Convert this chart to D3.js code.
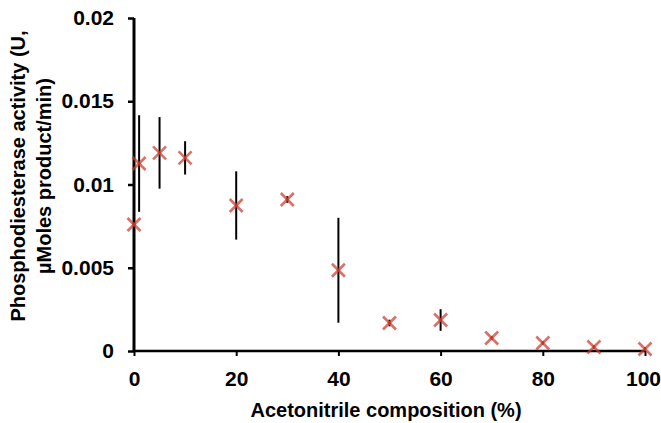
<!DOCTYPE html>
<html>
<head>
<meta charset="utf-8">
<script src="https://cdn.jsdelivr.net/npm/d3@7"></script>
<style>
  body { margin: 0; background: #fff; }
  text { font-family: "Liberation Sans", Arial, sans-serif; font-weight: bold; fill: #000; }
</style>
</head>
<body>
<div class="chart"></div>
<script>
var width = 661,
    height = 423;

// acetonitrile %, activity (U), error
var composition = [0, 1, 5, 10, 20, 30, 40, 50, 60, 70, 80, 90, 100];
var activity = [0.0076, 0.01126, 0.0119, 0.0116, 0.00874, 0.0091, 0.00485, 0.00168, 0.00186, 0.00078, 0.00048, 0.00024, 0.00012];
var errors = [0.0125, 0.0029, 0.00215, 0.001, 0.00205, 0.0002, 0.00315, 0.0002, 0.00065, 0.0001, 0.0001, 0.0001, 0.0001];
var xTicks = [0, 20, 40, 60, 80, 100];
var yTicks = [0, 0.005, 0.01, 0.015, 0.02];

var margin = {left: 134, top: 18, right: 16, bottom: 72};

var svg = d3.select(".chart").append("svg")
    .attr("width", width)
    .attr("height", height);

var x = d3.scaleLinear().domain([0, 100]).range([margin.left, width - margin.right]);
var y = d3.scaleLinear().domain([0, 0.02]).range([height - margin.bottom, margin.top]);

svg.append("defs").append("clipPath").attr("id", "plot")
  .append("rect")
    .attr("x", x(0) - 5).attr("y", y(0.02))
    .attr("width", x(100) - x(0) + 10).attr("height", y(0) - y(0.02));

var data = composition.map(function(c, i) {
  return {x: c, y: activity[i], e: errors[i]};
});

// error bars
svg.append("g").attr("clip-path", "url(#plot)")
  .selectAll("line")
  .data(data)
  .enter().append("line")
    .attr("x1", d => x(d.x)).attr("x2", d => x(d.x))
    .attr("y1", d => y(d.y + d.e)).attr("y2", d => y(Math.max(0, d.y - d.e)))
    .attr("stroke", "#000")
    .attr("stroke-width", 2);

// axes
var yAxis = svg.append("g")
    .attr("transform", "translate(" + x(0) + ",0)")
    .call(d3.axisLeft(y).tickValues(yTicks).tickSize(6).tickPadding(14)
      .tickFormat(d => d === 0 ? "0" : String(+d.toFixed(3))));
yAxis.select(".domain").attr("stroke-width", 3).attr("d", "M0," + y(0.02) + "V" + y(0));
yAxis.selectAll(".tick line").attr("stroke-width", 2.5);
yAxis.selectAll("text").style("font-size", "21px");

var xAxis = svg.append("g")
    .attr("transform", "translate(0," + y(0) + ")")
    .call(d3.axisBottom(x).tickValues(xTicks).tickSize(5).tickPadding(15));
xAxis.select(".domain").attr("stroke-width", 2.5).attr("d", "M" + x(0) + ",0H" + x(100));
xAxis.selectAll(".tick line").attr("stroke-width", 2);
xAxis.selectAll("text").style("font-size", "21px")
    .attr("dx", d => d === 100 ? -2 : 0);

// markers
var s = 6.5;
var marks = svg.append("g").selectAll("g")
  .data(data)
  .enter().append("g")
    .attr("transform", d => "translate(" + x(d.x) + "," + y(d.y) + ")");
marks.append("line").attr("x1", -s).attr("y1", -s).attr("x2", s).attr("y2", s);
marks.append("line").attr("x1", -s).attr("y1", s).attr("x2", s).attr("y2", -s);
marks.selectAll("line")
    .attr("stroke", "#cc3a2c")
    .attr("stroke-opacity", 0.72)
    .attr("stroke-width", 2.6);

// axis titles
svg.append("text")
    .attr("x", 386)
    .attr("y", 417)
    .attr("text-anchor", "middle")
    .style("font-size", "20px")
    .text("Acetonitrile composition (%)");

var yt = svg.append("text")
    .attr("transform", "translate(25,176) rotate(-90)")
    .attr("text-anchor", "middle")
    .style("font-size", "20px");
yt.append("tspan").attr("x", 0).attr("dy", 0).text("Phosphodiesterase activity (U,");
yt.append("tspan").attr("x", 0).attr("dy", 26).text("µMoles product/min)");
</script>
</body>
</html>
